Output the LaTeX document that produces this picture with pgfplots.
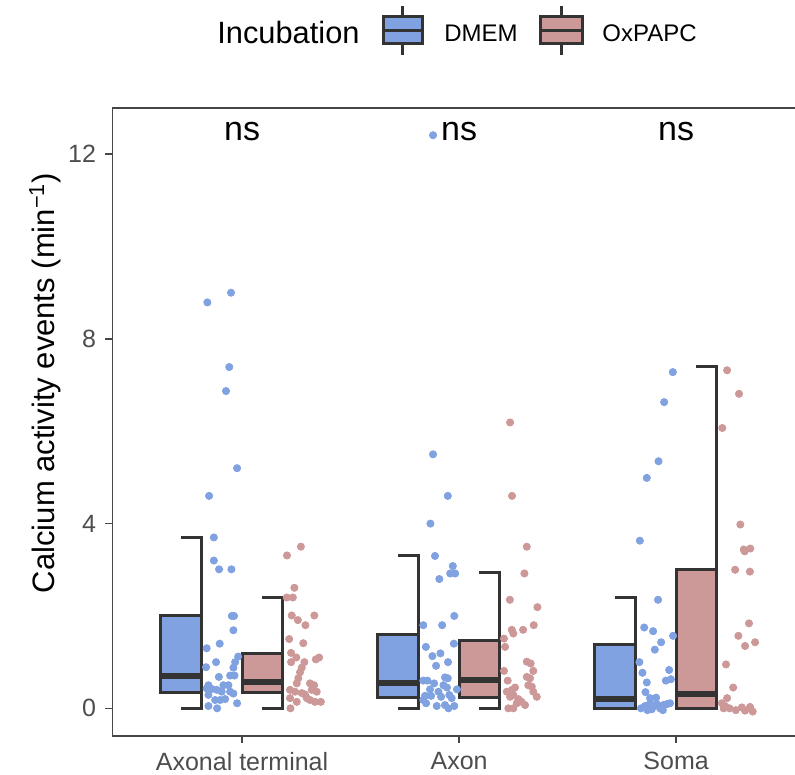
\documentclass[border=0pt]{standalone}
\usepackage{fontspec}
\setmainfont{Liberation Sans}
\usepackage{pgfplots}
\usepackage{pgfplotstable}
\pgfplotsset{compat=1.18}
\definecolor{dmem}{RGB}{128,162,225}
\definecolor{oxpapc}{RGB}{205,152,152}
\definecolor{boxline}{RGB}{51,51,51}
\definecolor{tickgray}{RGB}{77,77,77}
\definecolor{framegray}{RGB}{70,70,70}

% jittered points: x (category 1,2,3 plus jitter), y value
\pgfplotstableread{
x y
0.840 8.79
0.949 9.00
0.941 7.39
0.926 6.87
0.977 5.20
0.848 4.60
0.870 3.70
0.870 3.20
0.894 3.01
0.951 3.01
0.953 2.00
0.963 2.00
0.960 1.69
0.837 1.30
0.897 1.40
0.982 1.12
0.968 1.00
0.880 1.00
0.834 0.89
0.960 0.88
0.945 0.71
0.965 0.71
0.893 0.68
0.845 0.50
0.837 0.43
0.860 0.42
0.914 0.50
0.937 0.50
0.883 0.40
0.906 0.36
0.945 0.36
0.960 0.32
0.845 0.29
0.876 0.18
0.899 0.18
0.922 0.20
0.977 0.11
0.845 0.05
0.885 0.00
}\termDMEM
\pgfplotstableread{
x y
1.271 3.50
1.207 3.31
1.241 2.61
1.206 2.40
1.234 2.40
1.229 2.01
1.257 1.91
1.333 2.01
1.292 1.80
1.217 1.50
1.282 1.41
1.226 1.20
1.355 1.10
1.340 1.06
1.250 1.10
1.287 1.00
1.226 1.00
1.275 0.88
1.267 0.78
1.259 0.65
1.252 0.54
1.313 0.54
1.332 0.50
1.221 0.40
1.244 0.36
1.321 0.40
1.344 0.36
1.275 0.33
1.290 0.30
1.221 0.22
1.298 0.22
1.313 0.18
1.336 0.14
1.363 0.14
1.252 0.14
1.223 0.00
}\termOx
\pgfplotstableread{
x y
1.880 12.41
1.880 5.50
1.948 4.60
1.868 4.00
1.889 3.30
1.971 3.08
1.959 2.92
1.982 2.92
1.909 2.80
1.978 2.00
1.835 1.80
1.922 1.80
1.976 1.40
1.847 1.33
1.877 1.13
1.914 1.19
1.949 1.00
1.894 0.92
1.835 0.60
1.854 0.60
1.935 0.67
1.948 0.65
1.885 0.54
1.928 0.50
1.866 0.41
1.905 0.36
1.944 0.45
1.990 0.41
1.843 0.27
1.871 0.27
1.917 0.25
1.955 0.29
1.966 0.22
1.848 0.11
1.897 0.05
1.935 0.07
1.951 0.00
1.978 0.05
1.835 0.18
}\axonDMEM
\pgfplotstableread{
x y
2.235 6.19
2.244 4.60
2.312 3.50
2.301 2.92
2.234 2.35
2.361 2.19
2.344 1.80
2.243 1.70
2.250 1.62
2.295 1.70
2.207 1.51
2.212 1.33
2.207 0.81
2.312 1.01
2.330 0.97
2.342 0.81
2.312 0.68
2.327 0.65
2.224 0.60
2.319 0.50
2.335 0.47
2.258 0.45
2.243 0.40
2.342 0.36
2.358 0.25
2.220 0.36
2.235 0.25
2.250 0.29
2.273 0.20
2.288 0.14
2.304 0.07
2.227 0.00
2.250 0.00
2.266 0.11
}\axonOx
\pgfplotstableread{
x y
2.985 7.28
2.945 6.63
2.919 5.35
2.865 4.99
2.833 3.63
2.917 2.35
2.853 1.75
2.894 1.67
2.986 1.57
2.931 1.43
2.902 1.27
2.831 1.00
2.845 0.77
2.968 0.83
2.865 0.56
2.953 0.60
2.976 0.63
2.859 0.35
2.880 0.22
2.908 0.23
2.838 0.00
2.857 0.05
2.880 0.11
2.888 -0.02
2.911 0.09
2.926 0.00
2.941 0.07
2.957 0.09
2.972 0.11
2.939 -0.04
2.896 0.05
2.868 -0.04
}\somaDMEM
\pgfplotstableread{
x y
3.235 7.32
3.290 6.81
3.213 6.07
3.296 3.98
3.312 3.44
3.316 3.40
3.342 3.46
3.272 3.00
3.340 2.96
3.336 1.84
3.287 1.57
3.318 1.35
3.364 1.43
3.230 0.95
3.263 0.45
3.235 0.22
3.211 0.11
3.226 0.05
3.246 0.00
3.275 -0.04
3.303 0.02
3.318 -0.05
3.341 0.03
3.353 -0.07
3.219 0.00
}\somaOx

\begin{document}
\begin{tikzpicture}
\begin{axis}[
  scale only axis,
  width=341.35pt, height=313.85pt,
  xmin=0.402, xmax=3.548, ymin=-0.593, ymax=13.0,
  axis x line*=box, axis y line*=left,
  axis line style={draw=framegray, line width=0.8pt, -},
  xtick={1,2,3}, xticklabels={Axonal terminal, Axon, Soma},
  ytick={0,4,8,12},
  tick align=outside, xtick pos=left, ytick pos=left,
  major tick length=3.6pt,
  tick style={draw=framegray, line width=0.8pt},
  ticklabel style={font=\fontsize{12.5}{15}\selectfont, text=tickgray},
  /pgf/number format/assume math mode=true,
  xticklabel style={yshift=-1pt},
  yticklabel style={xshift=-1pt},
  box/.style={draw=boxline, line width=1.5pt, line join=miter},
  med/.style={draw=boxline, line width=3.0pt, line cap=butt},
  wh/.style={draw=boxline, line width=1.5pt, line join=miter, line cap=butt},
  pts/.style={only marks, mark=*, mark size=1.8pt},
]
% ---- Axonal terminal ----
\addplot[box, fill=dmem] coordinates {(0.625,0.35) (0.8125,0.35) (0.8125,2.00) (0.625,2.00)} -- cycle;
\addplot[med] coordinates {(0.625,0.71) (0.8125,0.71)};
\addplot[wh] coordinates {(0.719,3.70) (0.8125,3.70) (0.8125,2.00)};
\addplot[wh] coordinates {(0.719,0.00) (0.8125,0.00) (0.8125,0.35)};
\addplot[box, fill=oxpapc] coordinates {(1.0,0.34) (1.1875,0.34) (1.1875,1.18) (1.0,1.18)} -- cycle;
\addplot[med] coordinates {(1.0,0.56) (1.1875,0.56)};
\addplot[wh] coordinates {(1.094,2.40) (1.1875,2.40) (1.1875,1.18)};
\addplot[wh] coordinates {(1.094,0.00) (1.1875,0.00) (1.1875,0.34)};
% ---- Axon ----
\addplot[box, fill=dmem] coordinates {(1.625,0.23) (1.8125,0.23) (1.8125,1.59) (1.625,1.59)} -- cycle;
\addplot[med] coordinates {(1.625,0.555) (1.8125,0.555)};
\addplot[wh] coordinates {(1.719,3.31) (1.8125,3.31) (1.8125,1.59)};
\addplot[wh] coordinates {(1.719,0.00) (1.8125,0.00) (1.8125,0.23)};
\addplot[box, fill=oxpapc] coordinates {(2.0,0.23) (2.1875,0.23) (2.1875,1.46) (2.0,1.46)} -- cycle;
\addplot[med] coordinates {(2.0,0.61) (2.1875,0.61)};
\addplot[wh] coordinates {(2.094,2.94) (2.1875,2.94) (2.1875,1.46)};
\addplot[wh] coordinates {(2.094,0.00) (2.1875,0.00) (2.1875,0.23)};
% ---- Soma ----
\addplot[box, fill=dmem] coordinates {(2.625,0.00) (2.8125,0.00) (2.8125,1.39) (2.625,1.39)} -- cycle;
\addplot[med] coordinates {(2.625,0.21) (2.8125,0.21)};
\addplot[wh] coordinates {(2.719,2.40) (2.8125,2.40) (2.8125,1.39)};
\addplot[box, fill=oxpapc] coordinates {(3.0,0.00) (3.1875,0.00) (3.1875,3.00) (3.0,3.00)} -- cycle;
\addplot[med] coordinates {(3.0,0.32) (3.1875,0.32)};
\addplot[wh] coordinates {(3.094,7.41) (3.1875,7.41) (3.1875,3.00)};
% ---- points ----
\addplot[pts, draw=dmem, fill=dmem] table[x=x,y=y] {\termDMEM};
\addplot[pts, draw=oxpapc, fill=oxpapc] table[x=x,y=y] {\termOx};
\addplot[pts, draw=dmem, fill=dmem] table[x=x,y=y] {\axonDMEM};
\addplot[pts, draw=oxpapc, fill=oxpapc] table[x=x,y=y] {\axonOx};
\addplot[pts, draw=dmem, fill=dmem] table[x=x,y=y] {\somaDMEM};
\addplot[pts, draw=oxpapc, fill=oxpapc] table[x=x,y=y] {\somaOx};
% ---- significance labels ----
\node[font=\fontsize{17}{20}\selectfont, inner sep=0pt] at (axis cs:1,12.48) {ns};
\node[font=\fontsize{17}{20}\selectfont, inner sep=0pt] at (axis cs:2,12.48) {ns};
\node[font=\fontsize{17}{20}\selectfont, inner sep=0pt] at (axis cs:3,12.48) {ns};
\end{axis}
% ---- overlay in reference pixel units ----
\begin{scope}[x=0.5pt, y=-0.5pt, shift={(-56.15pt,367.85pt)}]
  \node[rotate=90, font=\fontsize{15.5}{18}\selectfont, inner sep=0pt] at (45,383) {Calcium activity events (min\textsuperscript{\char"2212 1})};
  % legend
  \node[anchor=west, font=\fontsize{15.4}{18}\selectfont, inner sep=0pt] at (217,33) {Incubation};
  \draw[boxline, line width=1.5pt] (402.5,6) -- (402.5,55);
  \filldraw[fill=dmem, draw=boxline, line width=1.5pt] (383,17) rectangle (422,44);
  \draw[boxline, line width=1.7pt] (383,30.5) -- (422,30.5);
  \node[anchor=west, font=\fontsize{12}{14}\selectfont, inner sep=0pt] at (444,33) {DMEM};
  \draw[boxline, line width=1.5pt] (561,6) -- (561,55);
  \filldraw[fill=oxpapc, draw=boxline, line width=1.5pt] (540,17) rectangle (582,44);
  \draw[boxline, line width=1.7pt] (540,30.5) -- (582,30.5);
  \node[anchor=west, font=\fontsize{12}{14}\selectfont, inner sep=0pt] at (602,33) {OxPAPC};
  \pgfresetboundingbox
  \path[use as bounding box] (0,0) rectangle (795,774);
\end{scope}
\end{tikzpicture}
\end{document}
